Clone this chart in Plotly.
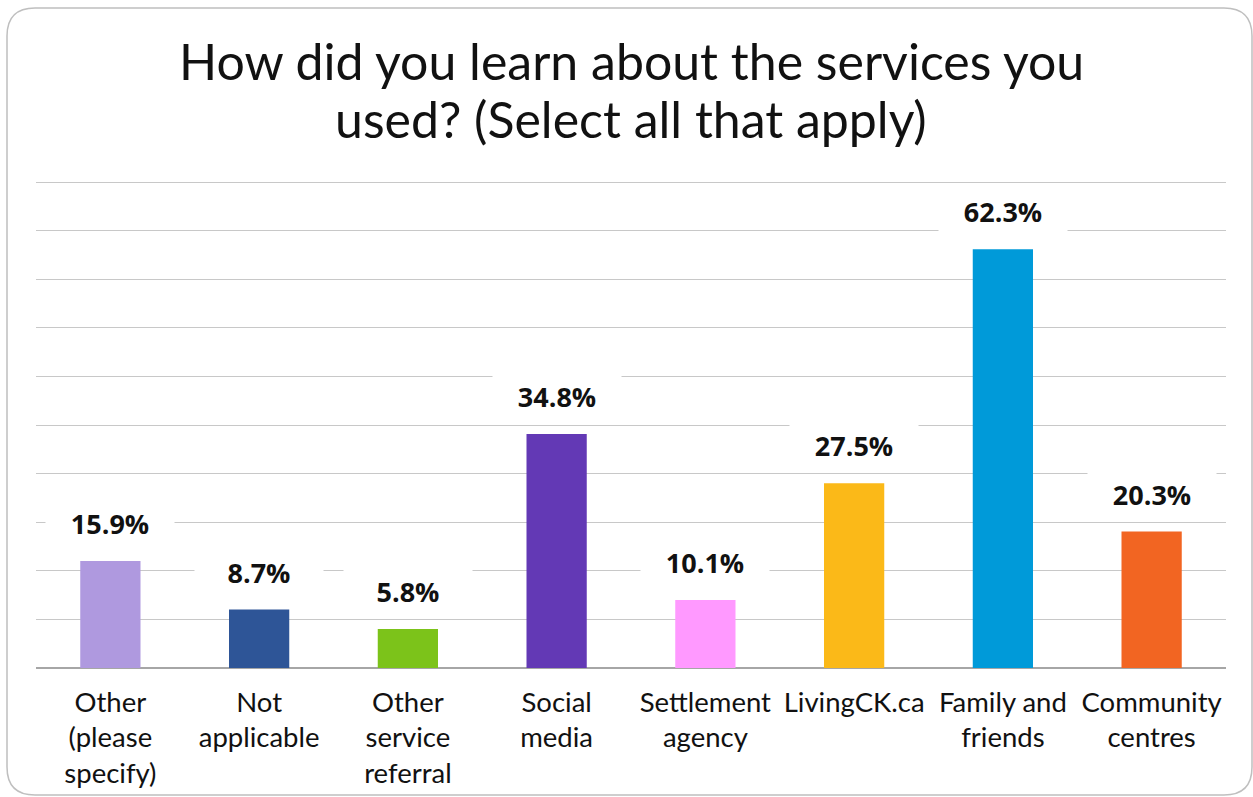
import plotly.graph_objects as go

categories = ["Other<br>(please<br>specify)", "Not<br>applicable", "Other<br>service<br>referral",
              "Social<br>media", "Settlement<br>agency", "LivingCK.ca", "Family and<br>friends",
              "Community<br>centres"]
values = [15.9, 8.7, 5.8, 34.8, 10.1, 27.5, 62.3, 20.3]
labels = ["15.9%", "8.7%", "5.8%", "34.8%", "10.1%", "27.5%", "62.3%", "20.3%"]
colors = ["#AF99DF", "#2E5597", "#7CC31A", "#6339B5", "#FF99FF", "#FBB918", "#009AD9", "#F26522"]
title_lines = ["How did you learn about the services you", "used? (Select all that apply)"]

W, H = 1253, 797
L, R, T, B = 36, 27, 180, 129
pw, ph = W - L - R, H - T - B
YTOP = 72.3            # value of the top gridline
YMAX = YTOP * ph / 486  # small headroom so the top gridline is drawn

fig = go.Figure()
fig.add_trace(go.Bar(x=categories, y=values, marker=dict(color=colors, line=dict(width=0)),
                     width=0.405, hoverinfo="skip"))

for c, v, t in zip(categories, values, labels):
    fig.add_annotation(x=c, y=v, text="<b>%s</b>" % t, showarrow=False, yanchor="bottom",
                       yshift=12, bgcolor="white", width=116, borderpad=6,
                       font=dict(family="Open Sans", size=27, color="#111111"))

def px(X):
    return (X - L) / pw

def py(Y):
    return (H - B - Y) / ph

for i, line in enumerate(title_lines):
    fig.add_annotation(x=0.5, xref="paper", y=py(61 + 58 * i), yref="paper", yanchor="middle",
                       text=line, showarrow=False,
                       font=dict(family="Lato", size=50, color="#111111"))

x0, y0, x1, y1, r = 7, 8, 1252, 795, 28
path = (f"M {px(x0 + r)},{py(y0)} L {px(x1 - r)},{py(y0)} Q {px(x1)},{py(y0)} {px(x1)},{py(y0 + r)} "
        f"L {px(x1)},{py(y1 - r)} Q {px(x1)},{py(y1)} {px(x1 - r)},{py(y1)} "
        f"L {px(x0 + r)},{py(y1)} Q {px(x0)},{py(y1)} {px(x0)},{py(y1 - r)} "
        f"L {px(x0)},{py(y0 + r)} Q {px(x0)},{py(y0)} {px(x0 + r)},{py(y0)} Z")
fig.add_shape(type="path", path=path, xref="paper", yref="paper",
              line=dict(color="#BFBFBF", width=1.5), layer="below")

fig.update_layout(
    width=W, height=H,
    margin=dict(l=L, r=R, t=T, b=B, autoexpand=False),
    paper_bgcolor="white", plot_bgcolor="white",
    showlegend=False,
    xaxis=dict(showgrid=False, showline=False, ticks="", automargin=False,
               tickfont=dict(family="Lato", size=27.5, color="#111111"), ticklabelstandoff=15),
    yaxis=dict(range=[0, YMAX], tick0=0, dtick=YTOP / 10, showticklabels=False, gridcolor="#C8C8C8",
               gridwidth=1.3, zeroline=True, zerolinecolor="#A6A6A6", zerolinewidth=1.5, fixedrange=True,
               automargin=False),
    bargap=0.6,
)

fig.write_html("out.html")
